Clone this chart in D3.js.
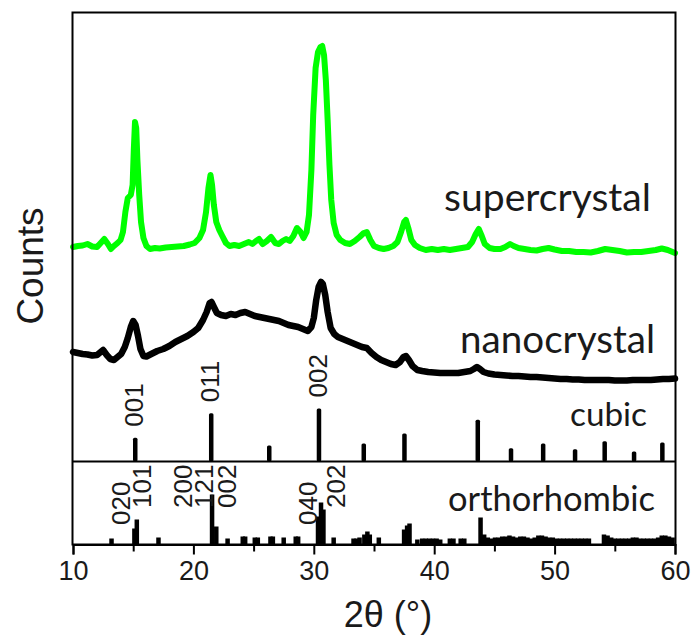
<!DOCTYPE html>
<html><head><meta charset="utf-8">
<script src="https://cdn.jsdelivr.net/npm/d3@7"></script>
<style>
html,body{margin:0;padding:0;background:#fff;}
svg{display:block;}
</style></head>
<body>
<svg id="chart" width="696" height="637"></svg>
<script>
// ---------------- DATA ----------------
const xTicks = [10, 20, 30, 40, 50, 60];
const xMinorTicks = [15, 25, 35, 45, 55];

// supercrystal pattern: [2theta, counts (a.u.)]
const superData = [[10.0,297.5],[10.4,298.5],[10.8,299],[11.2,300.5],[11.6,298],[12.0,297.5],[12.3,301.5],[12.6,305.5],[12.9,300.5],[13.15,295.5],[13.4,298.5],[13.7,301.5],[13.95,304.5],[14.15,312.5],[14.35,332.5],[14.55,346.5],[14.8,349.5],[14.95,359.5],[15.05,394.5],[15.15,422.5],[15.25,416.5],[15.35,384.5],[15.5,349.5],[15.65,322.5],[15.85,306.5],[16.1,298.5],[16.4,295.5],[16.8,296.5],[17.2,296],[17.7,297],[18.2,297.5],[18.7,298],[19.2,298.5],[19.7,300],[20.1,301.5],[20.5,306.5],[20.8,314.5],[21.05,332.5],[21.25,356.5],[21.42,369.5],[21.55,359.5],[21.7,339.5],[21.9,322.5],[22.15,314.5],[22.4,308.5],[22.7,301.5],[23.0,298.5],[23.4,299.5],[23.8,298.5],[24.2,300.5],[24.6,302.5],[24.9,300.5],[25.2,303.5],[25.45,305.5],[25.75,300.5],[26.1,303.5],[26.45,307.5],[26.8,301.5],[27.1,300.5],[27.4,303.5],[27.7,305.5],[28.0,303.5],[28.3,308.5],[28.6,316.5],[28.9,312.5],[29.15,306.5],[29.4,312.5],[29.6,329.5],[29.8,374.5],[29.95,429.5],[30.15,476.5],[30.35,492.5],[30.55,497.5],[30.7,498.5],[30.85,489.5],[31.0,464.5],[31.15,424.5],[31.3,379.5],[31.45,344.5],[31.65,321.5],[31.9,309.5],[32.2,304.5],[32.6,301.5],[33.0,300.5],[33.4,303.5],[33.8,307.5],[34.15,311.5],[34.4,312.5],[34.7,304.5],[35.0,298.5],[35.4,296.5],[35.8,295.5],[36.2,296.5],[36.6,298.5],[36.95,302.5],[37.25,312.5],[37.5,322.5],[37.65,324.5],[37.85,316.5],[38.1,304.5],[38.4,299.5],[38.8,296.5],[39.3,294.5],[39.8,295.5],[40.3,294.5],[40.8,295.5],[41.3,294.5],[41.8,295.5],[42.3,296.5],[42.8,297.5],[43.15,302.5],[43.45,310.5],[43.7,315.5],[43.95,308.5],[44.2,300.5],[44.6,296.5],[45.0,295.5],[45.5,295.5],[45.9,297.5],[46.3,300.5],[46.6,298.5],[47.0,296.5],[47.5,295.5],[48.0,294.5],[48.5,294],[49.0,295.5],[49.5,296.5],[50.0,295],[50.6,293.5],[51.2,293.5],[51.8,292.5],[52.4,292.5],[53.0,292],[53.6,293.5],[54.2,295.5],[54.8,294.5],[55.4,293.5],[56.0,292],[56.6,292.5],[57.2,292.5],[57.8,293.5],[58.4,294.5],[58.9,296],[59.4,294.5],[60.0,291.5]];

// nanocrystal pattern: [2theta, counts (a.u.)]
const nanoData = [[10.0,192.5],[10.4,191.5],[10.8,190.5],[11.2,190],[11.6,189],[12.0,189.5],[12.3,192.5],[12.5,194.5],[12.8,189.5],[13.1,185.5],[13.4,184.5],[13.7,187.5],[14.0,190.5],[14.3,197.5],[14.55,206.5],[14.8,217.5],[15.0,223.5],[15.2,219.5],[15.4,208.5],[15.6,195.5],[15.85,188.5],[16.1,188],[16.5,190.5],[17.0,193.5],[17.5,195.5],[18.0,198.5],[18.5,202.5],[19.0,205.5],[19.5,208.5],[20.0,212.5],[20.4,216.5],[20.8,224.5],[21.1,232.5],[21.35,241.5],[21.5,242.5],[21.7,237.5],[21.95,231.5],[22.3,229.5],[22.7,228.5],[23.1,230.5],[23.5,229.5],[23.9,231.5],[24.3,232.5],[24.7,230.5],[25.1,228.5],[25.5,227.5],[25.9,226.5],[26.3,225.5],[26.7,224.5],[27.1,223.5],[27.5,221.5],[27.9,219.5],[28.3,218.5],[28.7,217.5],[29.1,215.5],[29.5,213.5],[29.8,217.5],[30.0,226.5],[30.2,244.5],[30.4,257.5],[30.6,262.5],[30.75,260.5],[30.95,249.5],[31.15,232.5],[31.4,216.5],[31.7,210.5],[32.0,207.5],[32.4,205.5],[32.8,203.5],[33.2,201.5],[33.6,199.5],[34.0,197.5],[34.4,196.5],[34.8,191.5],[35.2,187.5],[35.6,184.5],[36.0,182.5],[36.4,180.5],[36.8,179.5],[37.15,182.5],[37.45,187.5],[37.65,188.5],[37.9,184.5],[38.2,178.5],[38.6,174.5],[39.0,173.5],[39.5,172.5],[40.0,172],[40.5,171.5],[41.0,171.5],[41.5,171.5],[42.0,171.5],[42.5,172.5],[43.0,173.5],[43.3,175.5],[43.55,177.5],[43.8,175.5],[44.1,172.5],[44.5,171],[45.0,170],[45.5,169.5],[46.0,169],[46.5,168.5],[47.0,168.5],[47.5,168],[48.0,167.5],[48.5,167.5],[49.0,167],[49.5,166.5],[50.0,166],[50.5,165.5],[51.0,165.5],[51.5,165],[52.0,165],[52.5,164.5],[53.0,164.5],[53.5,164.5],[54.0,164.5],[54.5,164.5],[55.0,164],[55.5,164],[56.0,164],[56.5,164.5],[57.0,164.5],[57.5,164.5],[58.0,164.5],[58.5,165],[59.0,165.5],[59.5,165.5],[60.0,166]];

// cubic reference: 2theta and relative intensity
const cubicTheta = [15.17, 21.48, 26.3, 30.43, 34.15, 37.53, 43.62, 46.38, 49.05, 51.7, 54.16, 56.6, 58.95];
const cubicInt   = [45, 91, 30, 100, 34, 53, 79, 25, 34, 23, 38, 19, 36];
const cubicLabels = [{hkl:"001", theta:15.17}, {hkl:"011", theta:21.48}, {hkl:"002", theta:30.43}];

// orthorhombic reference: 2theta and relative intensity
const orthoTheta = [13.2,15.1,15.3,17.1,21.55,21.9,22.84,24.1,24.3,25.1,25.35,26.4,26.6,27.5,28.5,28.7,30.35,30.6,30.8,31.65,33.3,33.55,33.8,34.2,34.45,34.65,35.4,37.5,37.75,37.95,38.6,39.0,39.3,39.6,39.9,40.2,40.5,41.3,41.6,42.2,42.5,43.85,44.15,44.45,44.75,45.05,45.35,45.65,45.95,46.25,46.55,46.85,47.15,47.45,47.75,48.05,48.35,48.65,48.95,49.25,49.55,49.85,50.15,50.45,50.75,51.05,51.35,51.65,51.95,52.25,52.55,52.85,54.1,54.4,54.7,55.0,55.3,55.6,55.9,56.2,56.5,56.8,57.1,57.4,57.7,58.0,58.3,58.6,58.9,59.2,59.5,59.8];
const orthoInt   = [12,32,50,14,100,36,12,16,16,14,14,16,16,14,16,16,56,84,70,14,12,12,14,20,26,20,14,30,38,42,10,12,12,12,12,12,10,12,12,12,12,54,20,14,12,14,14,16,16,18,16,14,16,16,14,12,14,18,18,16,14,14,12,12,12,12,12,12,12,12,12,12,20,18,14,12,12,12,12,12,14,14,12,12,12,12,12,14,18,18,16,14];
// label anchor: 2theta of label centre and relative level of label bottom
const orthoLabels = [
  {hkl:"020", theta:14.0, level:39},
  {hkl:"101", theta:15.75, level:73},
  {hkl:"200", theta:19.15, level:73},
  {hkl:"121", theta:20.9, level:73},
  {hkl:"002", theta:22.8, level:73},
  {hkl:"040", theta:29.5, level:39},
  {hkl:"202", theta:31.85, level:73}
];

const seriesNames = ["supercrystal", "nanocrystal", "cubic", "orthorhombic"];

// ---------------- CHART ----------------
const svg = d3.select("#chart");
const L = 73, R = 675, T = 12.5, B = 544.5, DIV = 461.5;

const x = d3.scaleLinear().domain([10, 60]).range([L, R]);
const y = d3.scaleLinear().domain([0, 532]).range([B, T]);
const yCub = d3.scaleLinear().domain([0, 100]).range([DIV, DIV - 53]);
const yOrt = d3.scaleLinear().domain([0, 100]).range([B, B - 50]);

const line = d3.line().x(d => x(d[0])).y(d => y(d[1])).curve(d3.curveLinear);

// curves
svg.append("path").datum(nanoData).attr("d", line)
  .attr("fill", "none").attr("stroke", "#000").attr("stroke-width", 6.5)
  .attr("stroke-linejoin", "round").attr("stroke-linecap", "round");
svg.append("path").datum(superData).attr("d", line)
  .attr("fill", "none").attr("stroke", "#00ff00").attr("stroke-width", 6)
  .attr("stroke-linejoin", "round").attr("stroke-linecap", "round");

// cubic bars
svg.append("g").selectAll("rect").data(cubicTheta).join("rect")
  .attr("x", (d) => x(d) - 2.25)
  .attr("width", 4.5)
  .attr("y", (d, i) => yCub(cubicInt[i]))
  .attr("height", (d, i) => yCub(0) - yCub(cubicInt[i]))
  .attr("rx", 1.5)
  .attr("fill", "#000");

// orthorhombic bars
svg.append("g").selectAll("rect").data(orthoTheta).join("rect")
  .attr("x", (d) => x(d) - 2.25)
  .attr("width", 4.5)
  .attr("y", (d, i) => yOrt(orthoInt[i]))
  .attr("height", (d, i) => yOrt(0) - yOrt(orthoInt[i]))
  .attr("fill", "#000");

// hkl labels
const hklFont = "'Liberation Sans', Arial, sans-serif";
cubicLabels.forEach(l => {
  const i = cubicTheta.indexOf(l.theta);
  const px = x(l.theta) - 1.5, py = yCub(cubicInt[i]) - 11;
  svg.append("text").attr("transform", `translate(${px},${py}) rotate(-90)`)
    .attr("dy", "0.35em").attr("font-family", hklFont).attr("font-size", 26)
    .attr("fill", "#1a1a1a").text(l.hkl);
});
orthoLabels.forEach(l => {
  const px = x(l.theta), py = yOrt(l.level);
  svg.append("text").attr("transform", `translate(${px},${py}) rotate(-90)`)
    .attr("dy", "0.35em").attr("font-family", hklFont).attr("font-size", 26)
    .attr("fill", "#1a1a1a").text(l.hkl);
});

// frame + divider
svg.append("rect").attr("x", L - 0.5).attr("y", T).attr("width", R - L + 1).attr("height", B - T)
  .attr("fill", "none").attr("stroke", "#000").attr("stroke-width", 2);
svg.append("line").attr("x1", L).attr("x2", R).attr("y1", DIV).attr("y2", DIV)
  .attr("stroke", "#000").attr("stroke-width", 2);

// x axis
const ax = svg.append("g").attr("transform", `translate(0,${B})`)
  .call(d3.axisBottom(x).tickValues(xTicks).tickSize(10).tickPadding(6).tickFormat(d3.format("d")));
ax.select(".domain").attr("stroke-width", 2);
ax.selectAll(".tick line").attr("stroke-width", 2);
ax.selectAll("text").attr("font-family", hklFont).attr("font-size", 27).attr("fill", "#1a1a1a");
const axm = svg.append("g").attr("transform", `translate(0,${B})`)
  .call(d3.axisBottom(x).tickValues(xMinorTicks).tickSize(7).tickFormat(""));
axm.select(".domain").remove();
axm.selectAll(".tick line").attr("stroke-width", 2);

// axis titles
const xt = svg.append("text").attr("x", 388).attr("y", 627).attr("text-anchor", "middle")
  .attr("font-family", hklFont).attr("font-size", 36).attr("fill", "#1a1a1a");
xt.append("tspan").text("2θ (°)");
svg.append("text").attr("transform", "translate(43,266) rotate(-90)").attr("text-anchor", "middle")
  .attr("font-family", hklFont).attr("font-size", 37).attr("fill", "#1a1a1a").text("Counts");

// series annotations (fit to measured width)
const annFont = "Lato, 'Open Sans', sans-serif";
const ann = [
  {t: seriesNames[0], right: 651, base: 211, w: 207},
  {t: seriesNames[1], right: 655, base: 353, w: 195},
  {t: seriesNames[2], right: 647, base: 426, w: 77},
  {t: seriesNames[3], right: 655, base: 511, w: 207}
];
ann.forEach(a => {
  const t = svg.append("text").attr("x", a.right).attr("y", a.base).attr("text-anchor", "end")
    .attr("font-family", annFont).attr("font-size", 100).attr("fill", "#1a1a1a").text(a.t);
  const w = t.node().getComputedTextLength();
  t.attr("font-size", 100 * a.w / w);
});
</script>
</body></html>
